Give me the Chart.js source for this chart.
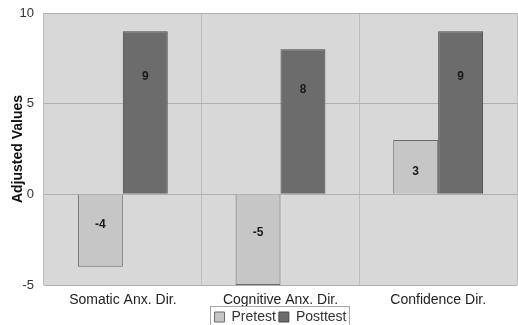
<!DOCTYPE html>
<html>
<head>
<meta charset="utf-8">
<script src="https://cdn.jsdelivr.net/npm/chart.js@4/dist/chart.umd.min.js"></script>
<style>
  html, body { margin: 0; padding: 0; background: #ffffff; }
  #wrap { width: 518px; height: 325px; }
</style>
</head>
<body>
<div id="wrap"><canvas id="chart" width="518" height="325"></canvas></div>
<script>
// Chart data
const categories = ['Somatic Anx. Dir.', 'Cognitive Anx. Dir.', 'Confidence Dir.'];
const pretestValues = [-4, -5, 3];
const posttestValues = [9, 8, 9];
const yTicks = [-5, 0, 5, 10];

// Grey plot background
const plotBackground = {
    id: 'plotBackground',
    beforeDraw: (chart) => {
        const { ctx, chartArea: a } = chart;
        ctx.save();
        ctx.fillStyle = '#d8d8d8';
        ctx.fillRect(a.left, a.top, a.right - a.left, a.bottom - a.top);
        ctx.restore();
    }
};

// Value labels inside the bars
const barLabels = {
    id: 'barLabels',
    afterDatasetsDraw: (chart) => {
        const { ctx } = chart;
        const yScale = chart.scales.y;
        ctx.save();
        ctx.font = 'bold 12px "Liberation Sans", Arial, sans-serif';
        ctx.fillStyle = '#1a1a1a';
        ctx.textAlign = 'center';
        ctx.textBaseline = 'middle';
        chart.data.datasets.forEach((ds, i) => {
            const meta = chart.getDatasetMeta(i);
            const frac = i === 0 ? 0.42 : 0.72;
            meta.data.forEach((bar, j) => {
                const v = ds.data[j];
                ctx.fillText(String(v), bar.x, yScale.getPixelForValue(v * frac));
            });
        });
        ctx.restore();
    }
};

// Border around the legend
const legendBox = {
    id: 'legendBox',
    afterDraw: (chart) => {
        const lg = chart.legend;
        if (!lg || !lg.legendItems.length) return;
        const hb = lg.legendHitBoxes;
        const first = hb[0];
        const last = hb[hb.length - 1];
        const { ctx } = chart;
        ctx.save();
        ctx.strokeStyle = '#a8a8a8';
        ctx.lineWidth = 1;
        const x0 = Math.round(first.left) - 4.5;
        const x1 = Math.round(last.left + last.width) + 3.5;
        ctx.strokeRect(x0, Math.round(first.top) - 3.5, x1 - x0, first.height + 7);
        ctx.restore();
    }
};

const init = () => {
    const ctx = document.querySelector('#chart');
    const font = '"Liberation Sans", Arial, sans-serif';

    new Chart(ctx, {
        type: 'bar',
        data: {
            labels: categories,
            datasets: [{
                label: 'Pretest',
                data: pretestValues,
                backgroundColor: '#c6c6c6',
                borderColor: '#6a6a6a',
                borderWidth: 1,
                categoryPercentage: 0.57,
                barPercentage: 1
            }, {
                label: 'Posttest',
                data: posttestValues,
                backgroundColor: '#6c6c6c',
                borderColor: '#4a4a4a',
                borderWidth: 1,
                categoryPercentage: 0.57,
                barPercentage: 1
            }]
        },
        options: {
            responsive: false,
            animation: false,
            layout: { padding: { top: 13, right: 1, left: 0, bottom: -9 } },
            plugins: {
                legend: {
                    position: 'bottom',
                    fullSize: false,
                    labels: {
                        boxWidth: 10,
                        boxHeight: 10,
                        padding: 3,
                        color: '#333',
                        font: { family: font, size: 14 }
                    }
                },
                tooltip: { enabled: false }
            },
            scales: {
                x: {
                    grid: { color: '#bcbcbc', drawTicks: false },
                    border: { display: false },
                    ticks: { color: '#222', padding: 7, font: { family: font, size: 14 } },
                    afterFit: (s) => { s.height = 22; }
                },
                y: {
                    min: -5,
                    max: 10,
                    afterBuildTicks: (s) => { s.ticks = yTicks.map(v => ({ value: v })); },
                    grid: { color: '#b0b0b0', drawTicks: false },
                    border: { display: false },
                    ticks: { color: '#333', padding: 10, font: { family: font, size: 13 } },
                    title: {
                        display: true,
                        text: 'Adjusted Values',
                        color: '#111',
                        padding: { top: 10, bottom: 0 },
                        font: { family: font, size: 14, weight: 'bold' }
                    },
                    afterFit: (s) => {
                        s.width = 44;
                        s.paddingTop = 0;
                        s.paddingBottom = 0;
                    }
                }
            }
        },
        plugins: [plotBackground, barLabels, legendBox]
    });
};

init();
</script>
</body>
</html>
